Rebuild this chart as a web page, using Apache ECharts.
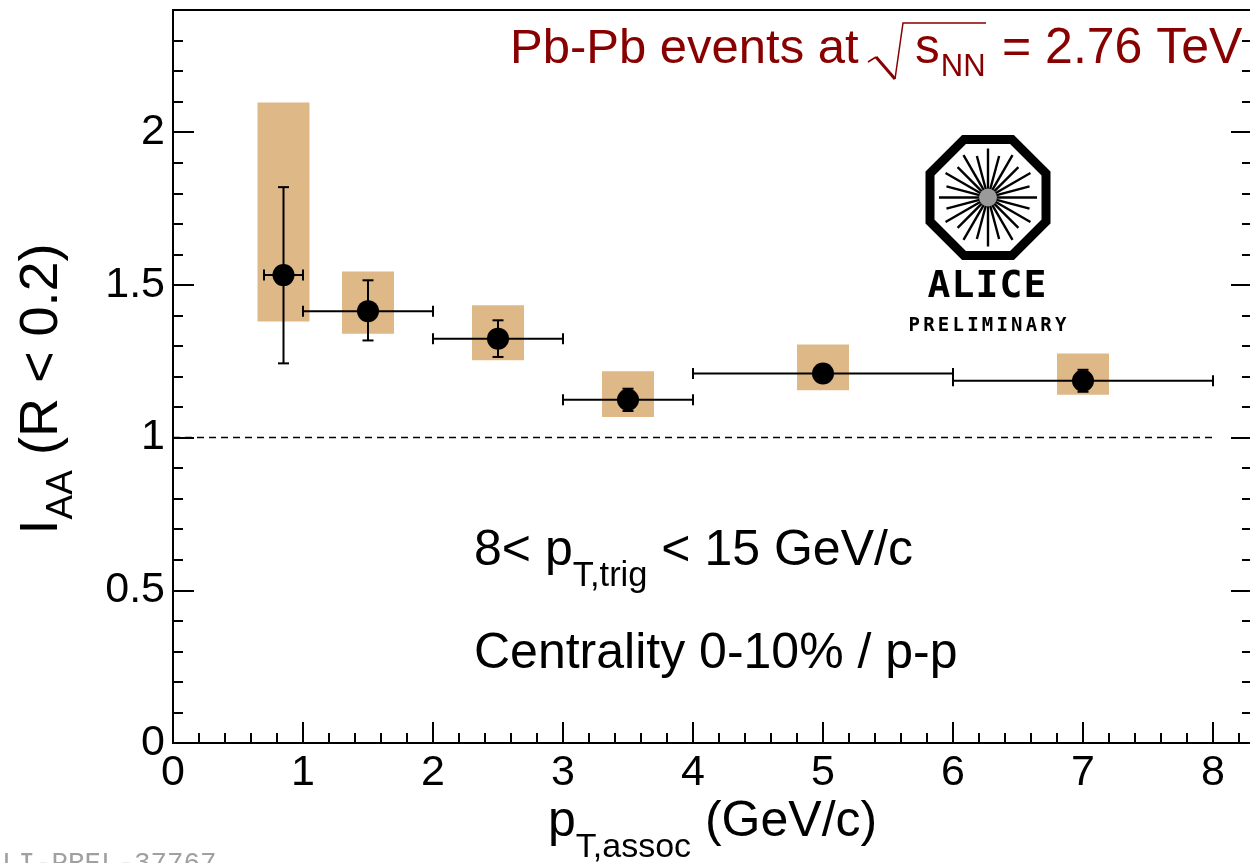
<!DOCTYPE html>
<html>
<head>
<meta charset="utf-8">
<script src="https://cdn.jsdelivr.net/npm/echarts@6/dist/echarts.min.js"></script>
<style>
  html, body { margin: 0; padding: 0; background: #fff; }
  #chart { width: 1250px; height: 863px; }
</style>
</head>
<body>
<div id="chart"></div>
<script>
// I_AA (R < 0.2) versus associated-particle pT, 8 < pT,trig < 15 GeV/c,
// Pb-Pb 0-10% central over p-p.
const ptAssoc  = [0.85, 1.5, 2.5, 3.5, 5.0, 7.0];     // point position (GeV/c)
const binLow   = [0.70, 1.0, 2.0, 3.0, 4.0, 6.0];     // horizontal error, low edge
const binHigh  = [1.00, 2.0, 3.0, 4.0, 6.0, 8.0];     // horizontal error, high edge
const iaa      = [1.532, 1.414, 1.324, 1.124, 1.210, 1.186];
const statLow  = [1.243, 1.318, 1.264, 1.087, 1.190, 1.150];
const statHigh = [1.820, 1.515, 1.384, 1.160, 1.230, 1.222];
const sysLow   = [1.380, 1.340, 1.253, 1.067, 1.155, 1.140];
const sysHigh  = [2.097, 1.544, 1.433, 1.217, 1.305, 1.275];
const unityLine = [[0, 1], [8, 1]];

const SYS_HALF_WIDTH = 0.2;   // half width of the systematic boxes, GeV/c
const RED = '#880000';
const SANS = 'Liberation Sans';

const chart = echarts.init(document.getElementById('chart'), null, { renderer: 'canvas' });

// ---- text helpers (sub-scripted runs built from plain text pieces) ----
const mctx = document.createElement('canvas').getContext('2d');
function fontOf(p) { return (p.weight || 'normal') + ' ' + p.size + 'px "' + (p.family || SANS) + '"'; }
function textWidth(p) { mctx.font = fontOf(p); return mctx.measureText(p.t).width; }
function midToBase(p) {
  mctx.font = fontOf(p); mctx.textBaseline = 'middle';
  const d = mctx.measureText('H').actualBoundingBoxDescent;
  mctx.textBaseline = 'alphabetic';
  return d;
}
function textEl(p, x, baseY) {
  return {
    type: 'text', x: x, y: baseY + (p.dy || 0) - midToBase(p), silent: true,
    style: {
      text: p.t, font: fontOf(p), fill: p.color || '#000',
      align: 'left', verticalAlign: 'middle', textAlign: 'left', textVerticalAlign: 'middle'
    }
  };
}
function run(parts, x0, baseY, anchor) {
  const widths = parts.map(p => textWidth(p) + (p.gap || 0));
  const total = widths.reduce((a, b) => a + b, 0);
  let x = anchor === 'center' ? x0 - total / 2 : x0;
  return parts.map((p, i) => { const el = textEl(p, x, baseY); x += widths[i]; return el; });
}

// ---- ALICE logo ----
function aliceLogo(cx, cy) {
  const els = [];
  const rOct = 58 / Math.cos(Math.PI / 8);
  const pts = [];
  for (let k = 0; k < 8; k++) {
    const a = Math.PI / 8 + k * Math.PI / 4;
    pts.push([cx + rOct * Math.cos(a), cy + rOct * Math.sin(a)]);
  }
  els.push({ type: 'polygon', shape: { points: pts }, style: { fill: 'none', stroke: '#000', lineWidth: 9, lineJoin: 'miter' }, silent: true });
  for (let k = 0; k < 24; k++) {
    const a = k * Math.PI / 12;
    const r1 = 7, r2 = (k % 2 === 0) ? 49 : 43;
    els.push({
      type: 'line', silent: true,
      shape: { x1: cx + r1 * Math.cos(a), y1: cy + r1 * Math.sin(a), x2: cx + r2 * Math.cos(a), y2: cy + r2 * Math.sin(a) },
      style: { stroke: '#000', lineWidth: 2.4 }
    });
  }
  els.push({ type: 'circle', shape: { cx: cx, cy: cy, r: 9 }, style: { fill: '#9a9a9a' }, silent: true });
  const word = 'ALICE';
  for (let i = 0; i < word.length; i++) {
    els.push({
      type: 'text', x: 939 + i * 24, y: 287, silent: true,
      style: { text: word[i], font: 'bold 38px "DejaVu Sans Mono"', fill: '#000',
               align: 'center', verticalAlign: 'middle', textAlign: 'center', textVerticalAlign: 'middle' }
    });
  }
  const sub = 'PRELIMINARY';
  for (let i = 0; i < sub.length; i++) {
    els.push({
      type: 'text', x: 914.3 + i * 14.64, y: 326, silent: true,
      style: { text: sub[i], font: 'bold 19px "DejaVu Sans Mono"', fill: '#000',
               align: 'center', verticalAlign: 'middle', textAlign: 'center', textVerticalAlign: 'middle' }
    });
  }
  return els;
}

// ---- graphic overlay: header, annotations, axis titles ----
const graphics = [];
// header  Pb-Pb events at sqrt(s_NN) = 2.76 TeV
graphics.push(...run([{ t: 'Pb-Pb events at', size: 49, color: RED }], 510, 63));
graphics.push({ type: 'polyline', silent: true, shape: { points: [[868, 62], [876, 57]] }, style: { stroke: RED, lineWidth: 1.5, fill: 'none' } });
graphics.push({ type: 'line', silent: true, shape: { x1: 876, y1: 57, x2: 895, y2: 79 }, style: { stroke: RED, lineWidth: 3 } });
graphics.push({ type: 'polyline', silent: true, shape: { points: [[895, 79], [903, 23], [986, 23]] }, style: { stroke: RED, lineWidth: 1.5, fill: 'none' } });
graphics.push(...run([{ t: 's', size: 49.5, color: RED, gap: 1 }, { t: 'NN', size: 31, dy: 13, color: RED }], 915, 63));
graphics.push(...run([{ t: '= 2.76 TeV', size: 50, color: RED }], 1002, 63));

// kinematic selection
graphics.push(...run([
  { t: '8< p', size: 50 },
  { t: 'T,trig', size: 34.5, dy: 21 },
  { t: ' < 15 GeV/c', size: 50 }
], 474, 565));
graphics.push(...run([{ t: 'Centrality 0-10% / p-p', size: 50 }], 474, 668));

// x-axis title
graphics.push(...run([
  { t: 'p', size: 50 },
  { t: 'T,assoc', size: 34, dy: 21 },
  { t: ' (GeV/c)', size: 50 }
], 548, 836));

// y-axis title (rotated)
graphics.push({
  type: 'group', x: 57, y: 389, rotation: Math.PI / 2, silent: true,
  children: run([
    { t: 'I', size: 54 },
    { t: 'AA', size: 37, dy: 15 },
    { t: ' (R < 0.2)', size: 54 }
  ], 0, 0, 'center')
});

// preliminary record id
graphics.push(...run([{ t: 'ALI-PREL-37767', size: 27.5, family: 'Liberation Mono', color: '#a0a0a0' }], -14.5, 871));

graphics.push(...aliceLogo(988, 197.5));

// ---- axes ----
const tickStyle = { color: '#000', width: 2 };
const labelStyle = { fontSize: 43, fontFamily: SANS, color: '#000' };
function xAx(interval, len, labels) {
  return {
    type: 'value', gridIndex: 0, position: 'bottom', min: 0, max: 8.3, interval: interval,
    axisLine: { show: false },
    axisTick: { show: true, inside: true, length: len, lineStyle: tickStyle },
    axisLabel: labels ? Object.assign({ show: true, margin: 9, showMaxLabel: false }, labelStyle) : { show: false },
    splitLine: { show: false }
  };
}
function yAx(pos, interval, len, labels) {
  return {
    type: 'value', gridIndex: 0, position: pos, min: 0, max: 2.4, interval: interval,
    axisLine: { show: false },
    axisTick: { show: true, inside: true, length: len, lineStyle: tickStyle },
    axisLabel: labels ? Object.assign({ show: true, margin: 8, showMaxLabel: false }, labelStyle) : { show: false },
    splitLine: { show: false }
  };
}

const option = {
  animation: false,
  backgroundColor: '#fff',
  grid: {
    left: 173, top: 10, width: 1079, height: 733,
    containLabel: false, outerBoundsMode: 'none',
    show: true, borderColor: '#000', borderWidth: 2, backgroundColor: 'transparent'
  },
  xAxis: [xAx(1, 21, true), xAx(0.2, 10, false)],
  yAxis: [yAx('left', 0.5, 21, true), yAx('left', 0.1, 10, false),
          yAx('right', 0.5, 21, false), yAx('right', 0.1, 10, false)],
  graphic: { elements: graphics },
  series: [
    {
      // systematic uncertainty boxes
      type: 'custom', xAxisIndex: 0, yAxisIndex: 0, z: 1, silent: true,
      data: ptAssoc.map((x, i) => [x, sysLow[i], sysHigh[i]]),
      renderItem: function (params, api) {
        const x = api.value(0);
        const p1 = api.coord([x - SYS_HALF_WIDTH, api.value(2)]);
        const p2 = api.coord([x + SYS_HALF_WIDTH, api.value(1)]);
        return { type: 'rect', shape: { x: p1[0], y: p1[1], width: p2[0] - p1[0], height: p2[1] - p1[1] },
                 style: { fill: '#deb887' } };
      }
    },
    {
      // unity reference
      type: 'line', xAxisIndex: 0, yAxisIndex: 0, z: 2, silent: true,
      data: unityLine, symbol: 'none',
      lineStyle: { color: '#000', width: 1.5, type: [7, 5] }
    },
    {
      // statistical (vertical) and bin-width (horizontal) error bars
      type: 'custom', xAxisIndex: 0, yAxisIndex: 0, z: 3, silent: true,
      data: ptAssoc.map((x, i) => [x, iaa[i], binLow[i], binHigh[i], statLow[i], statHigh[i]]),
      renderItem: function (params, api) {
        const x = api.value(0), y = api.value(1);
        const lo = api.coord([x, api.value(4)]);
        const hi = api.coord([x, api.value(5)]);
        const l = api.coord([api.value(2), y]);
        const r = api.coord([api.value(3), y]);
        const cap = 5.5;
        const st = { stroke: '#000', lineWidth: 2 };
        const seg = (x1, y1, x2, y2) => ({ type: 'line', shape: { x1, y1, x2, y2 }, style: st });
        return {
          type: 'group',
          children: [
            seg(lo[0], lo[1], hi[0], hi[1]),
            seg(hi[0] - cap, hi[1], hi[0] + cap, hi[1]),
            seg(lo[0] - cap, lo[1], lo[0] + cap, lo[1]),
            seg(l[0], l[1], r[0], r[1]),
            seg(l[0], l[1] - cap, l[0], l[1] + cap),
            seg(r[0], r[1] - cap, r[0], r[1] + cap)
          ]
        };
      }
    },
    {
      type: 'scatter', xAxisIndex: 0, yAxisIndex: 0, z: 4, silent: true,
      symbol: 'circle', symbolSize: 22,
      itemStyle: { color: '#000', opacity: 1 },
      data: ptAssoc.map((x, i) => [x, iaa[i]])
    }
  ]
};
chart.setOption(option);
</script>
</body>
</html>
